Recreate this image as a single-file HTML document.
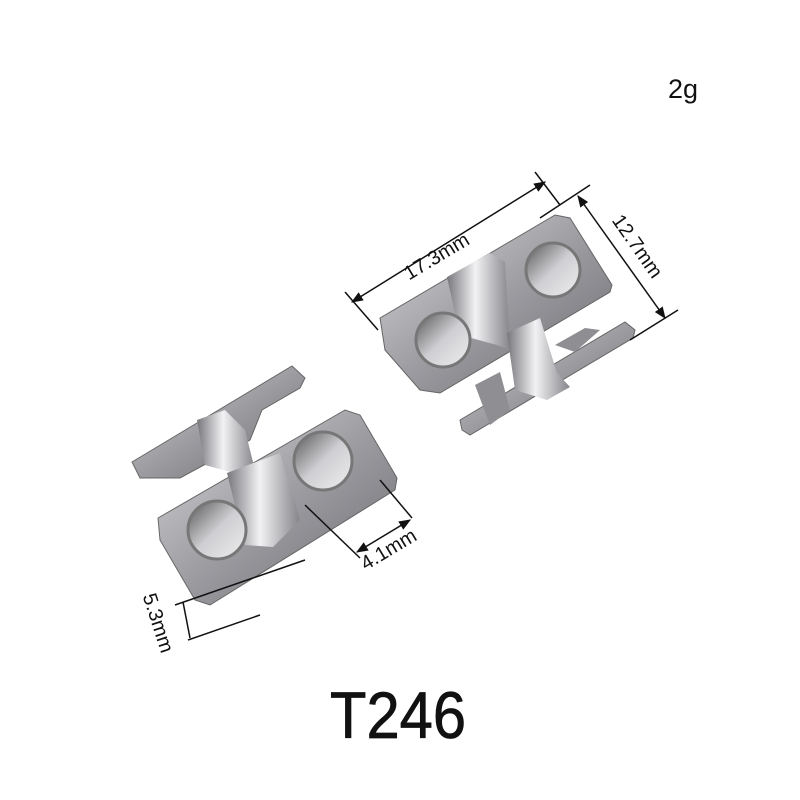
<!DOCTYPE html>
<html><head><style>
html,body{margin:0;padding:0;background:#fff;width:800px;height:800px;overflow:hidden}
svg{display:block}
text{font-family:"Liberation Sans",sans-serif;fill:#111}
</style></head><body>
<svg width="800" height="800" viewBox="0 0 800 800">
<defs>
<linearGradient id="m1" x1="0" y1="0" x2="1" y2="1">
<stop offset="0" stop-color="#d8d8dc"/><stop offset=".5" stop-color="#9c9ca1"/><stop offset="1" stop-color="#6a6a6f"/></linearGradient>
<linearGradient id="m2" x1="0" y1="0" x2="1" y2="0">
<stop offset="0" stop-color="#77777c"/><stop offset=".45" stop-color="#f2f2f4"/><stop offset="1" stop-color="#85858a"/></linearGradient>
<linearGradient id="h" x1="0" y1="0" x2="1" y2="1">
<stop offset="0" stop-color="#555"/><stop offset=".5" stop-color="#cfcfd3"/><stop offset="1" stop-color="#eee"/></linearGradient>
<marker id="ar" viewBox="0 0 10 10" refX="9" refY="5" markerWidth="8" markerHeight="8" orient="auto-start-reverse"><path d="M0,1 L10,5 L0,9 z" fill="#111"/></marker>
</defs>
<text x="683" y="98" font-size="27" text-anchor="middle">2g</text>
<text x="330" y="738" font-size="66" textLength="136" lengthAdjust="spacingAndGlyphs" stroke="#111" stroke-width="0.8">T246</text>

<!-- top-right hinge -->
<polygon points="460,420 625,322 635,330 633,338 470,435 462,430" fill="url(#m1)" stroke="#666"/>
<polygon points="475,385 500,372 510,410 490,425" fill="#8e8e93"/>
<polygon points="555,345 585,328 600,330 575,352" fill="#8e8e93"/>
<polygon points="380,318 555,215 570,218 612,285 610,292 440,393 420,390 385,350" fill="url(#m1)" stroke="#666"/>
<polygon points="447,277 490,253 505,262 510,350 497,345 460,335" fill="url(#m2)"/>
<polygon points="507,333 540,318 557,373 570,387 547,400 515,390" fill="url(#m2)"/>
<circle cx="443" cy="340" r="27" fill="url(#h)" stroke="#777" stroke-width="3"/>
<circle cx="553" cy="270" r="27" fill="url(#h)" stroke="#777" stroke-width="3"/>

<!-- bottom-left hinge -->
<polygon points="132,462 292,366 305,378 300,388 262,410 250,440 180,478 140,478" fill="url(#m1)" stroke="#666"/>
<polygon points="158,518 345,410 360,415 397,478 395,490 210,605 195,600 160,540" fill="url(#m1)" stroke="#666"/>
<polygon points="197,420 225,410 245,430 255,470 230,472 205,465" fill="url(#m2)"/>
<polygon points="227,473 280,453 300,520 297,523 273,547 245,545" fill="url(#m2)"/>
<circle cx="217" cy="530" r="29" fill="url(#h)" stroke="#777" stroke-width="3"/>
<circle cx="323" cy="461" r="29" fill="url(#h)" stroke="#777" stroke-width="3"/>

<!-- dimensions -->
<g stroke="#111" stroke-width="1.5" fill="none">
<line x1="345" y1="292" x2="378" y2="330"/>
<line x1="535" y1="172" x2="560" y2="205"/>
<line x1="352" y1="302" x2="545" y2="182" marker-start="url(#ar)" marker-end="url(#ar)"/>
<line x1="540" y1="218" x2="590" y2="185"/>
<line x1="630" y1="340" x2="678" y2="310"/>
<line x1="578" y1="196" x2="665" y2="318" marker-start="url(#ar)" marker-end="url(#ar)"/>
<line x1="305" y1="505" x2="360" y2="558"/>
<line x1="380" y1="480" x2="412" y2="518"/>
<line x1="357" y1="552" x2="410" y2="520" marker-start="url(#ar)" marker-end="url(#ar)"/>
<line x1="175" y1="605" x2="305" y2="560"/>
<line x1="188" y1="640" x2="260" y2="615"/>
<line x1="183" y1="602" x2="190" y2="638"/>
</g>
<text font-size="20" transform="translate(440,262) rotate(-31)" text-anchor="middle">17.3mm</text>
<text font-size="20" transform="translate(632,250) rotate(55)" text-anchor="middle">12.7mm</text>
<text font-size="20" transform="translate(392,555) rotate(-31)" text-anchor="middle">4.1mm</text>
<text font-size="20" transform="translate(152,625) rotate(72)" text-anchor="middle">5.3mm</text>
</svg>
</body></html>
